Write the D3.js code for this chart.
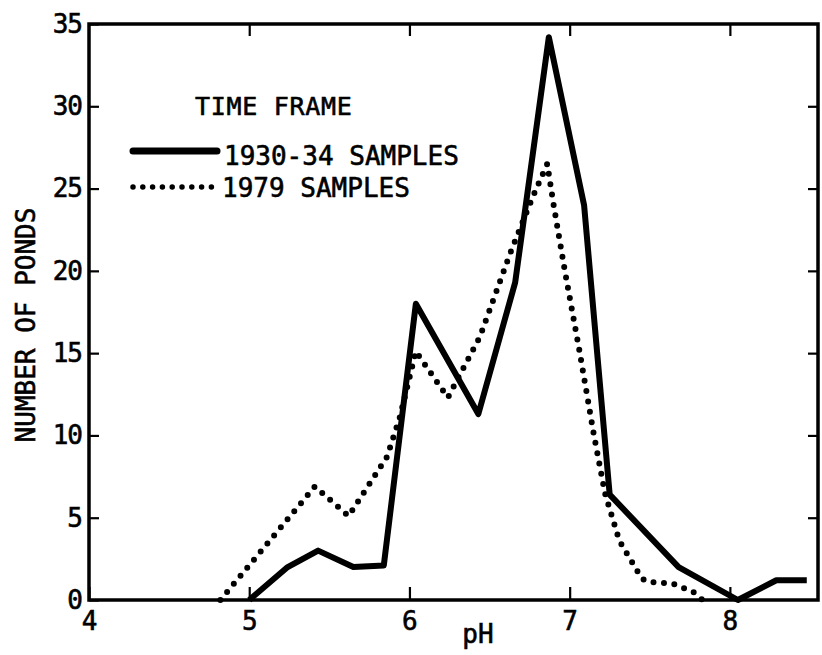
<!DOCTYPE html>
<html>
<head>
<meta charset="utf-8">
<script src="https://cdn.jsdelivr.net/npm/d3@7/dist/d3.min.js"></script>
<style>
  html, body { margin: 0; padding: 0; background: #fff; }
  svg { display: block; }
  text { font-family: "DejaVu Sans Mono", "Liberation Mono", monospace; fill: #000; stroke: #000; stroke-width: 0.6px; }
</style>
</head>
<body>
<svg id="chart" width="822" height="655"></svg>
<script>
// pH distribution of ponds, two sampling periods
const phEarly = [5.0, 5.24, 5.43, 5.65, 5.84, 6.04, 6.43, 6.66, 6.87, 7.09, 7.25, 7.68, 8.05, 8.29, 8.48];
const pondsEarly = [0, 2, 3, 2, 2.1, 18, 11.3, 19.3, 34.2, 24, 6.4, 2, 0, 1.2, 1.2];

const phLate = [4.82, 5.41, 5.62, 5.86, 5.94, 6.04, 6.24, 6.44, 6.63, 6.77, 6.86, 6.90, 6.97, 7.06, 7.15, 7.22, 7.31, 7.45, 7.49, 7.64, 7.77, 7.83];
const pondsLate = [0, 6.9, 5.1, 8.7, 11.1, 15.1, 12.3, 16, 21.1, 24.5, 26.5, 24, 20, 15.2, 10.1, 6.5, 3.6, 1.3, 1.1, 1.0, 0.5, 0];

const xTicks = [4, 5, 6, 7, 8];
const yTicks = [0, 5, 10, 15, 20, 25, 30, 35];
const seriesNames = ["1930-34 SAMPLES", "1979 SAMPLES"];
const legendTitle = "TIME FRAME";

const svg = d3.select("#chart");
const plotLeft = 89, plotRight = 818, plotTop = 24, plotBottom = 600;

const x = d3.scaleLinear().domain([4, 8.55]).range([plotLeft, plotRight]);
const y = d3.scaleLinear().domain([0, 35]).range([plotBottom, plotTop]);

const fontSize = 26;

// axes, ticks pointing into the plot
const gl = svg.append("g").attr("transform", `translate(${plotLeft},0)`)
  .call(d3.axisLeft(y).tickValues(yTicks).tickSize(-10).tickPadding(7).tickFormat(d3.format("d")));
const gb = svg.append("g").attr("transform", `translate(0,${plotBottom})`)
  .call(d3.axisBottom(x).tickValues(xTicks).tickSize(-13).tickPadding(12).tickFormat(d3.format("d")));
const gt = svg.append("g").attr("transform", `translate(0,${plotTop})`)
  .call(d3.axisTop(x).tickValues(xTicks.slice(1)).tickSize(-12).tickFormat(""));
const gr = svg.append("g").attr("transform", `translate(${plotRight},0)`)
  .call(d3.axisRight(y).tickValues(yTicks.slice(1, -1)).tickSize(-10).tickFormat(""));

[gl, gb, gt, gr].forEach(g => {
  g.select(".domain").remove();
  g.selectAll(".tick line").attr("stroke", "#000").attr("stroke-width", 2.2);
  g.selectAll(".tick text").attr("font-size", fontSize)
    .attr("font-family", '"DejaVu Sans Mono", monospace').attr("fill", "#000");
});
gl.selectAll(".tick text").attr("letter-spacing", -1);

// frame
svg.append("rect")
  .attr("x", plotLeft).attr("y", plotTop)
  .attr("width", plotRight - plotLeft).attr("height", plotBottom - plotTop)
  .attr("fill", "none").attr("stroke", "#000").attr("stroke-width", 3.5);

// axis titles
svg.append("text")
  .attr("x", 478).attr("y", 643)
  .attr("text-anchor", "middle").attr("font-size", fontSize)
  .text("pH");
svg.append("text")
  .attr("transform", "translate(35,325) rotate(-90)")
  .attr("text-anchor", "middle").attr("font-size", fontSize)
  .text("NUMBER OF PONDS");

// series
const line = d3.line().x(d => x(d[0])).y(d => y(d[1]));
const early = phEarly.map((p, i) => [p, pondsEarly[i]]);
const late = phLate.map((p, i) => [p, pondsLate[i]]);

svg.append("path").datum(late)
  .attr("d", line)
  .attr("fill", "none").attr("stroke", "#000")
  .attr("stroke-width", 6).attr("stroke-linecap", "round")
  .attr("stroke-dasharray", "0,10.5");

svg.append("path").datum(early)
  .attr("d", line)
  .attr("fill", "none").attr("stroke", "#000")
  .attr("stroke-width", 6).attr("stroke-linejoin", "round");

// legend
svg.append("text").attr("x", 195).attr("y", 115)
  .attr("font-size", 25).attr("letter-spacing", 0.7).text(legendTitle);

svg.append("line")
  .attr("x1", 133).attr("x2", 217).attr("y1", 151).attr("y2", 151)
  .attr("stroke", "#000").attr("stroke-width", 7).attr("stroke-linecap", "round");
svg.append("text").attr("x", 224).attr("y", 165)
  .attr("font-size", fontSize).text(seriesNames[0]);

svg.append("line")
  .attr("x1", 133).attr("x2", 212).attr("y1", 187).attr("y2", 187)
  .attr("stroke", "#000").attr("stroke-width", 5.5)
  .attr("stroke-linecap", "round").attr("stroke-dasharray", "0,9.8");
svg.append("text").attr("x", 222).attr("y", 197)
  .attr("font-size", fontSize).text(seriesNames[1]);
</script>
</body>
</html>
